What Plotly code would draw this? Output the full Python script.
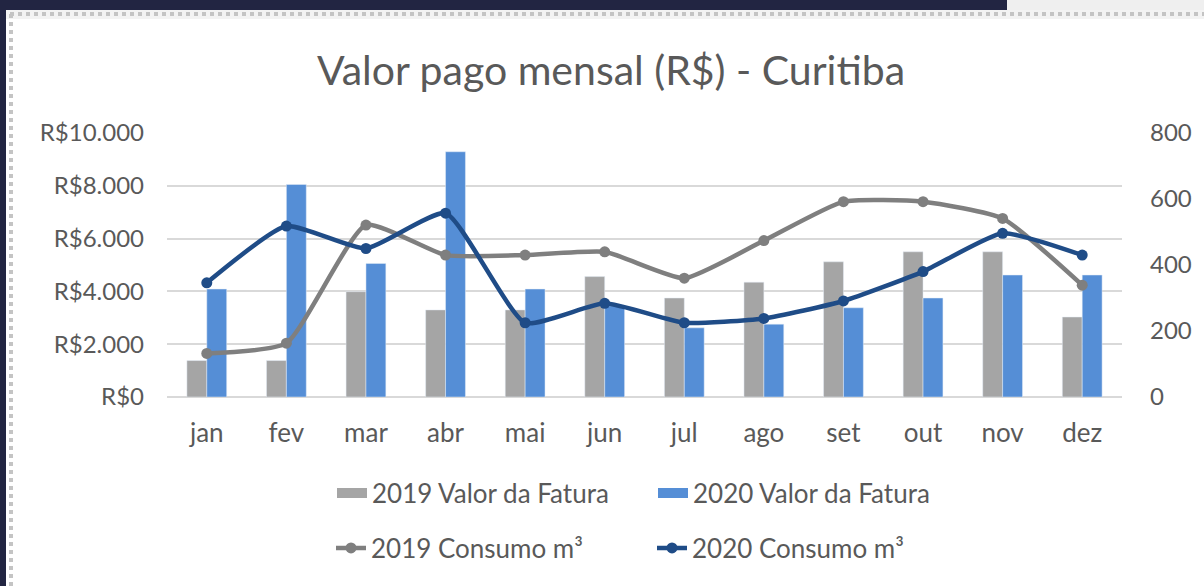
import plotly.graph_objects as go

months = ["jan", "fev", "mar", "abr", "mai", "jun", "jul", "ago", "set", "out", "nov", "dez"]
fatura_2019 = [1380, 1380, 3990, 3300, 3300, 4560, 3750, 4350, 5120, 5500, 5500, 3030]
fatura_2020 = [4090, 8050, 5060, 9290, 4090, 3450, 2620, 2760, 3380, 3750, 4620, 4620]
consumo_2019 = [132, 163, 521, 430, 430, 440, 360, 474, 592, 592, 541, 339]
consumo_2020 = [346, 518, 450, 557, 225, 284, 225, 238, 291, 380, 496, 430]
left_ticks = [0, 2000, 4000, 6000, 8000, 10000]
left_ticktext = ["R$" + f"{v:,}".replace(",", ".") for v in left_ticks]
right_ticks = [0, 200, 400, 600, 800]

FONT = "Lato"
TXT = "#595959"
C19_BAR, C20_BAR = "#a5a5a5", "#558ed6"
C19_LINE, C20_LINE = "#7f7f7f", "#1f4c87"

# plot area in pixels
PL, PR, PT, PB = 167, 1122, 133, 397
W, H = 1204, 586


def px(x):
    return (x - PL) / (PR - PL)


def py(y):
    return (PB - y) / (PB - PT)


fig = go.Figure()
fig.add_trace(go.Bar(x=months, y=fatura_2019, name="2019 Valor da Fatura",
                     marker_color=C19_BAR, showlegend=False))
fig.add_trace(go.Bar(x=months, y=fatura_2020, name="2020 Valor da Fatura",
                     marker_color=C20_BAR, showlegend=False))
fig.add_trace(go.Scatter(x=months, y=consumo_2019, name="2019 Consumo m³", yaxis="y2",
                         mode="lines+markers", line=dict(color=C19_LINE, width=4.5, shape="spline", smoothing=0.5),
                         marker=dict(size=11, color=C19_LINE), legend="legend2"))
fig.add_trace(go.Scatter(x=months, y=consumo_2020, name="2020 Consumo m³", yaxis="y2",
                         mode="lines+markers", line=dict(color=C20_LINE, width=4.5, shape="spline", smoothing=0.5),
                         marker=dict(size=11, color=C20_LINE), legend="legend2"))
# legend keys for the bars (wide rectangles, as in the reference)
for name, col in [("2019 Valor da Fatura", C19_BAR), ("2020 Valor da Fatura", C20_BAR)]:
    fig.add_trace(go.Scatter(x=[None], y=[None], mode="lines", name=name,
                             line=dict(color=col, width=18), legend="legend", hoverinfo="skip"))

shapes = [
    dict(type="rect", xref="paper", yref="paper", x0=px(6), x1=px(W + 5), y0=py(10), y1=py(H + 5),
         fillcolor="white", line_width=0, layer="below"),
    dict(type="rect", xref="paper", yref="paper", x0=px(1007), x1=px(W + 5), y0=py(-5), y1=py(10),
         fillcolor="#efefef", line_width=0, layer="below"),
    dict(type="rect", xref="paper", yref="paper", x0=px(6), x1=px(W + 5), y0=py(10), y1=py(19),
         fillcolor="#f3f3f3", line_width=0, layer="below"),
    dict(type="line", xref="paper", yref="paper", x0=px(10), x1=px(W + 5), y0=py(14), y1=py(14),
         line=dict(color="#c4c4c4", width=4, dash="dot"), layer="below"),
    dict(type="line", xref="paper", yref="paper", x0=px(11), x1=px(11), y0=py(14), y1=py(H + 5),
         line=dict(color="#c4c4c4", width=4, dash="dot"), layer="below"),
]

legend_common = dict(orientation="h", xanchor="left", yanchor="middle",
                     font=dict(size=26, color=TXT, family=FONT), bgcolor="rgba(0,0,0,0)",
                     traceorder="normal", entrywidth=276, entrywidthmode="pixels")

fig.update_layout(
    width=W, height=H,
    margin=dict(l=PL, r=W - PR, t=PT, b=H - PB, autoexpand=False),
    paper_bgcolor="#222542",
    plot_bgcolor="white",
    font=dict(family=FONT, color=TXT),
    title=dict(text="Valor pago mensal (R$) - Curitiba", x=px(611), xref="paper", xanchor="center",
               y=1 - 71 / H, yref="container", yanchor="middle",
               font=dict(family=FONT, size=41, color=TXT)),
    barmode="group", bargap=0.5, bargroupgap=0,
    xaxis=dict(range=[-0.5, len(months) - 0.5], showgrid=False, showline=False, ticks="",
               ticklabelstandoff=18, tickfont=dict(size=26, color=TXT, family=FONT)),
    yaxis=dict(range=[0, 10000], tickvals=left_ticks, ticktext=left_ticktext,
               showgrid=True, gridcolor="#d9d9d9", gridwidth=1.5,
               zeroline=True, zerolinecolor="#d9d9d9", zerolinewidth=1.5,
               ticks="", ticklabelstandoff=22, tickfont=dict(size=24, color=TXT, family=FONT)),
    yaxis2=dict(range=[0, 800], tickvals=right_ticks, overlaying="y", side="right",
                showgrid=False, zeroline=False, ticks="", ticklabelstandoff=27,
                tickfont=dict(size=24, color=TXT, family=FONT)),
    legend=dict(x=px(332), y=py(493), **legend_common),
    legend2=dict(x=px(331), y=py(548), **legend_common),
    shapes=shapes,
    showlegend=True,
)

fig.write_html("out.html", config={"displayModeBar": False},
               post_script="document.body.style.margin='0';")
